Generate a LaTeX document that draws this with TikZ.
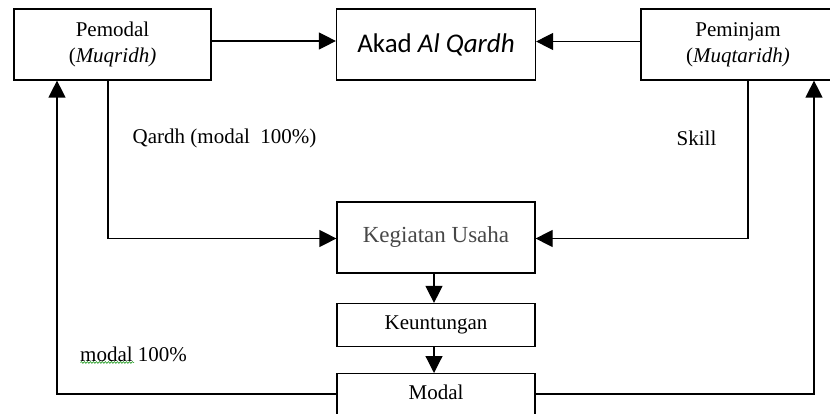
\documentclass[tikz,border=0pt]{standalone}
\usepackage{fontspec}
\setmainfont{Liberation Serif}
\newfontfamily\calibri{Carlito}
\usetikzlibrary{arrows.meta,decorations.pathmorphing}
\begin{document}
\begin{tikzpicture}[x=1pt,y=-1pt,
  box/.style={draw, line width=1.2pt, inner sep=0pt, align=center},
  arr/.style={line width=1.2pt, -{Triangle[length=17pt,width=17pt]}},
  ln/.style={line width=1.2pt},
  txt/.style={inner sep=0pt, font=\fontsize{21}{26}\selectfont}]
\useasboundingbox (0,0) rectangle (830,414);
\node[box, txt, minimum width=197pt, minimum height=71pt] (pemodal) at (112.5,44.5) {Pemodal\\(\textit{Muqridh)}};
\node[box, minimum width=199pt, minimum height=71pt, font=\calibri\fontsize{27}{30}\selectfont] (akad) at (436,44.5) {Akad \textit{Al Qardh}};
\node[box, txt, minimum width=194pt, minimum height=71pt] (peminjam) at (738,44.5) {Peminjam\\(\textit{Muqtaridh)}};
\node[box, minimum width=198pt, minimum height=71pt, text=black!72, font=\fontsize{23}{27}\selectfont] (kegiatan) at (436,237.5) {Kegiatan Usaha};
\node[box, txt, minimum width=198pt, minimum height=43pt] (keuntungan) at (436,325) {Keuntungan};
\node[draw, line width=1.2pt, minimum width=198pt, minimum height=70pt, anchor=north] (modal) at (436,373) {};
\node[txt] (modaltxt) at (436,392) {Modal};
\node[txt, anchor=west] (lqardh) at (132.5,138) {Qardh (modal\ \ 100\%)};
\node[txt, anchor=west] (lskill) at (676.5,138) {Skill};
\node[txt, anchor=west] (lmodal) at (80,354) {modal 100\%};
\draw[green!55!black, line width=0.5pt, decorate, decoration={snake, amplitude=0.9pt, segment length=3pt}] (80.5,362.5) -- (134,362.5);
\coordinate (ml) at (57,394);
\coordinate (mr) at (814,394);
\coordinate (pl) at (108,238.5);
\coordinate (pr) at (748,238.5);
\draw[arr] ([yshift=3.5pt]pemodal.east) -- ([yshift=3.5pt]akad.west);
\draw[arr] ([yshift=3pt]peminjam.west) -- ([yshift=3pt]akad.east);
\draw[arr] (pemodal.south -| pl) |- (kegiatan.west |- pl);
\draw[arr] (peminjam.south -| pr) |- (kegiatan.east |- pr);
\draw[arr] ([xshift=-2pt]kegiatan.south) -- ([xshift=-2pt]keuntungan.north);
\draw[arr] ([xshift=-2pt]keuntungan.south) -- ([xshift=-2pt]modal.north);
\draw[arr] (modal.west |- ml) -| (pemodal.south -| ml);
\draw[arr] (modal.east |- mr) -| (peminjam.south -| mr);
\end{tikzpicture}
\end{document}
